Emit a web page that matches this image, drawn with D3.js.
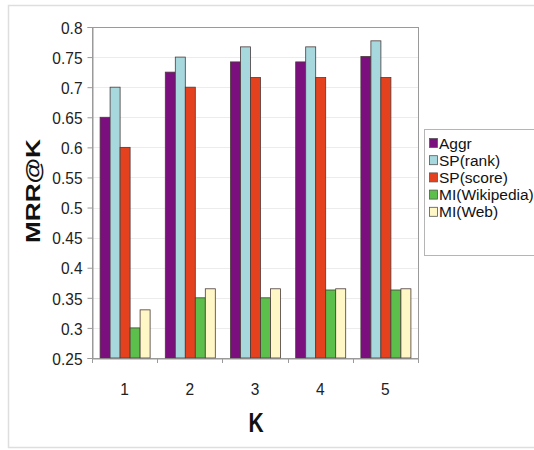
<!DOCTYPE html>
<html>
<head>
<meta charset="utf-8">
<script src="https://cdn.jsdelivr.net/npm/d3@7/dist/d3.min.js"></script>
<style>
  html, body { margin: 0; padding: 0; background: #fff; }
  svg { display: block; font-family: "Liberation Sans", Arial, sans-serif; }
</style>
</head>
<body>
<svg id="chart" width="534" height="450"></svg>
<script>
// MRR@K for each retrieval method, K = 1..5
const categories = ["1", "2", "3", "4", "5"];
const seriesNames = ["Aggr", "SP(rank)", "SP(score)", "MI(Wikipedia)", "MI(Web)"];
const aggr      = [0.650, 0.725, 0.742, 0.742, 0.751];
const spRank    = [0.700, 0.750, 0.767, 0.767, 0.777];
const spScore   = [0.600, 0.700, 0.716, 0.716, 0.716];
const miWiki    = [0.300, 0.350, 0.350, 0.363, 0.363];
const miWeb     = [0.330, 0.365, 0.365, 0.365, 0.365];
const yTicks    = [0.25, 0.3, 0.35, 0.4, 0.45, 0.5, 0.55, 0.6, 0.65, 0.7, 0.75, 0.8];
const colors    = ["#7b0f7e", "#a7d8de", "#e4421f", "#5dbf4b", "#fff7c6"];

const seriesValues = [aggr, spRank, spScore, miWiki, miWeb];

const svg = d3.select("#chart");
const plot = { left: 92, right: 418, top: 27, bottom: 358 };

// outer frame
svg.append("rect")
  .attr("x", 8.5).attr("y", 5.5).attr("width", 540).attr("height", 442)
  .attr("fill", "#fff").attr("stroke", "#dedede").attr("stroke-width", 1.5);

const x = d3.scaleBand().domain(categories)
  .range([plot.left, plot.right]).paddingInner(0.233).paddingOuter(0.1165);
const xs = d3.scaleBand().domain(seriesNames).range([0, x.bandwidth()]);
const y = d3.scaleLinear().domain([0.25, 0.8]).range([plot.bottom, plot.top]);

// gridlines
svg.append("g").selectAll("line").data(yTicks.slice(1)).join("line")
  .attr("x1", plot.left).attr("x2", plot.right)
  .attr("y1", d => Math.round(y(d)) + 0.5).attr("y2", d => Math.round(y(d)) + 0.5)
  .attr("stroke", "#ececec").attr("stroke-width", 1);

// plot frame
svg.append("rect")
  .attr("x", plot.left + 0.5).attr("y", plot.top + 0.5)
  .attr("width", plot.right - plot.left).attr("height", plot.bottom - plot.top)
  .attr("fill", "none").attr("stroke", "#9a9a9a").attr("stroke-width", 1);

// bars
const groups = svg.append("g").selectAll("g").data(categories).join("g")
  .attr("transform", c => `translate(${x(c)},0)`);
groups.selectAll("rect")
  .data((c, i) => seriesNames.map((s, j) => ({ s, j, v: seriesValues[j][i] })))
  .join("rect")
  .attr("x", d => xs(d.s) + 0.5)
  .attr("y", d => y(d.v))
  .attr("width", xs.bandwidth())
  .attr("height", d => y(0.25) - y(d.v))
  .attr("fill", d => colors[d.j])
  .attr("stroke", "#4a3a3a").attr("stroke-width", 0.8);

// y axis
const yAxis = svg.append("g")
  .attr("transform", `translate(${plot.left + 0.5},0)`)
  .call(d3.axisLeft(y).tickValues(yTicks).tickFormat(d3.format("")).tickSize(5).tickPadding(5));
yAxis.select(".domain").attr("stroke", "#9a9a9a");
yAxis.selectAll(".tick line").attr("stroke", "#9a9a9a");
yAxis.selectAll(".tick text")
  .attr("font-size", 15.5).attr("fill", "#222")
  .attr("transform", function () { return "scale(1,1.12)"; })
  .attr("y", function () { return 0; })
  .attr("dy", "0.36em");
// keep the vertical stretch centred on each tick
yAxis.selectAll(".tick").each(function (d) {
  d3.select(this).select("text")
    .attr("transform", `translate(0,0) scale(1,1.12)`);
});

// x axis
const xAxis = svg.append("g")
  .attr("transform", `translate(0,${plot.bottom + 0.5})`)
  .call(d3.axisBottom(x).tickSize(0).tickPadding(22));
xAxis.select(".domain").attr("stroke", "#9a9a9a");
xAxis.selectAll(".tick text").attr("font-size", 15.5).attr("fill", "#222")
  .attr("transform", "scale(1,1.12)");
// boundary tick marks between categories
const bounds = [plot.left].concat(categories.map(c => x(c) + x.bandwidth() + x.step() * 0.233 / 2));
svg.append("g").selectAll("line").data(bounds).join("line")
  .attr("x1", d => Math.round(d) + 0.5).attr("x2", d => Math.round(d) + 0.5)
  .attr("y1", plot.bottom).attr("y2", plot.bottom + 5)
  .attr("stroke", "#9a9a9a");

// axis titles
svg.append("text")
  .attr("transform", "translate(40,191) rotate(-90)")
  .attr("text-anchor", "middle")
  .attr("font-size", 21).attr("font-weight", "bold").attr("fill", "#111")
  .attr("textLength", 104).attr("lengthAdjust", "spacingAndGlyphs")
  .text("MRR@K");
svg.append("text")
  .attr("transform", "translate(256,432) scale(1,1.3)")
  .attr("text-anchor", "middle")
  .attr("font-size", 21).attr("font-weight", "bold").attr("fill", "#111")
  .text("K");

// legend
const legend = svg.append("g").attr("transform", "translate(424,129)");
legend.append("rect")
  .attr("x", 0.5).attr("y", 0.5).attr("width", 130).attr("height", 126)
  .attr("fill", "#fff").attr("stroke", "#b5b5b5");
const items = legend.selectAll("g.item").data(seriesNames).join("g")
  .attr("class", "item")
  .attr("transform", (d, i) => `translate(5,${14 + i * 17.2})`);
items.append("rect")
  .attr("x", 0.5).attr("y", -4.5).attr("width", 8).attr("height", 9)
  .attr("fill", (d, i) => colors[i]).attr("stroke", "#555").attr("stroke-width", 0.8);
items.append("text")
  .attr("x", 10).attr("dy", "0.36em")
  .attr("font-size", 15.5).attr("fill", "#111")
  .text(d => d);
</script>
</body>
</html>
